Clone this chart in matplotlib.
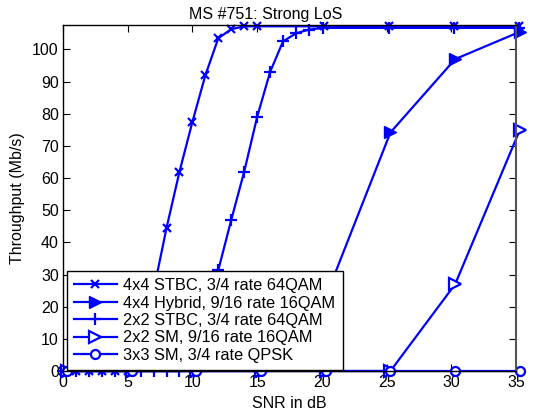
import matplotlib
matplotlib.use("Agg")
import matplotlib.pyplot as plt

plt.rcParams['font.family'] = ['Liberation Sans', 'DejaVu Sans']

# Data
x_stbc44 = [0, 1, 2, 3, 4, 5, 6, 7, 8, 9, 10, 11, 12, 13, 14, 15, 20.2, 25.2, 30.2, 35.2]
y_stbc44 = [0, 0, 0, 0, 0, 0, 8, 25, 44.5, 62, 77.5, 92, 103.5, 106.3, 107.2, 107.2, 107.2, 107.2, 107.2, 107.2]

x_hyb44 = [0.3, 5.3, 10.3, 15.3, 20.3, 25.3, 30.3, 35.3]
y_hyb44 = [0, 0, 0, 0, 23, 74.2, 97, 105.5]

x_stbc22 = [0, 1, 2, 3, 4, 5, 6, 7, 8, 9, 10, 11, 12, 13, 14, 15, 16, 17, 18, 19, 20.1, 25.2, 30.2, 35.2]
y_stbc22 = [0, 0, 0, 0, 0, 0, 0, 0, 0, 0, 3, 15, 31.4, 47, 62, 79, 93, 102.5, 105, 106.2, 106.7, 106.7, 106.7, 106.7]

x_sm22 = [0.3, 5.3, 10.3, 15.3, 20.3, 25.3, 30.3, 35.3]
y_sm22 = [0, 0, 0, 0, 0, 0, 27, 75]

x_sm33 = [0.3, 5.3, 10.3, 15.3, 20.3, 25.3, 30.3, 35.3]
y_sm33 = [0, 0, 0, 0, 0, 0, 0, 0]

labels = ["4x4 STBC, 3/4 rate 64QAM",
          "4x4 Hybrid, 9/16 rate 16QAM",
          "2x2 STBC, 3/4 rate 64QAM",
          "2x2 SM, 9/16 rate 16QAM",
          "3x3 SM, 3/4 rate QPSK"]

xticks = [0, 5, 10, 15, 20, 25, 30, 35]
yticks = [0, 10, 20, 30, 40, 50, 60, 70, 80, 90, 100]

FS = 11.5
LFS = 11.8
fig = plt.figure(figsize=(5.44, 4.17), dpi=100)
ax = fig.add_axes([63/544, 1-371/417, (516-63)/544, (371-24.7)/417])

blue = (0, 0, 1)
lw = 1.6
ax.plot(x_stbc44, y_stbc44, color=blue, lw=lw, marker='x', ms=6, mew=1.6, clip_on=False, label=labels[0])
ax.plot(x_hyb44, y_hyb44, color=blue, lw=lw, marker='>', ms=8, mfc=blue, mec=blue, clip_on=False, label=labels[1])
ax.plot(x_stbc22, y_stbc22, color=blue, lw=lw, marker='+', ms=8.5, mew=1.6, clip_on=False, label=labels[2])
ax.plot(x_sm22, y_sm22, color=blue, lw=lw, marker='>', ms=8, mfc='white', mec=blue, mew=1.6, clip_on=False, label=labels[3])
ax.plot(x_sm33, y_sm33, color=blue, lw=lw, marker='o', ms=6.5, mfc='white', mec=blue, mew=1.6, clip_on=False, label=labels[4])

ax.set_xlim(0, 35)
ax.set_ylim(0, 107.7)
ax.set_xticks(xticks)
ax.set_yticks(yticks)
ax.tick_params(direction='in', length=5, width=0.8, top=True, right=True, labelsize=FS, pad=3)
for s in ax.spines.values():
    s.set_linewidth(1.0)
    s.set_color('black')
ax.spines['right'].set_color('#555555')
ax.spines['right'].set_linewidth(1.5)

ax.set_xlabel("SNR in dB", fontsize=FS, labelpad=4)
ax.set_ylabel("Throughput (Mb/s)", fontsize=FS, labelpad=5)
fig.text(266/544, 1-14/417, "MS #751: Strong LoS", ha='center', va='center', fontsize=FS)

leg = ax.legend(loc='lower left', bbox_to_anchor=(0.008, 0.002), borderaxespad=0,
                fontsize=LFS, handlelength=2.6, handletextpad=0.4, labelspacing=0.15,
                borderpad=0.45, fancybox=False, framealpha=1, edgecolor='black')
leg.get_frame().set_linewidth(1.0)

fig.savefig("out.png", dpi=100)
